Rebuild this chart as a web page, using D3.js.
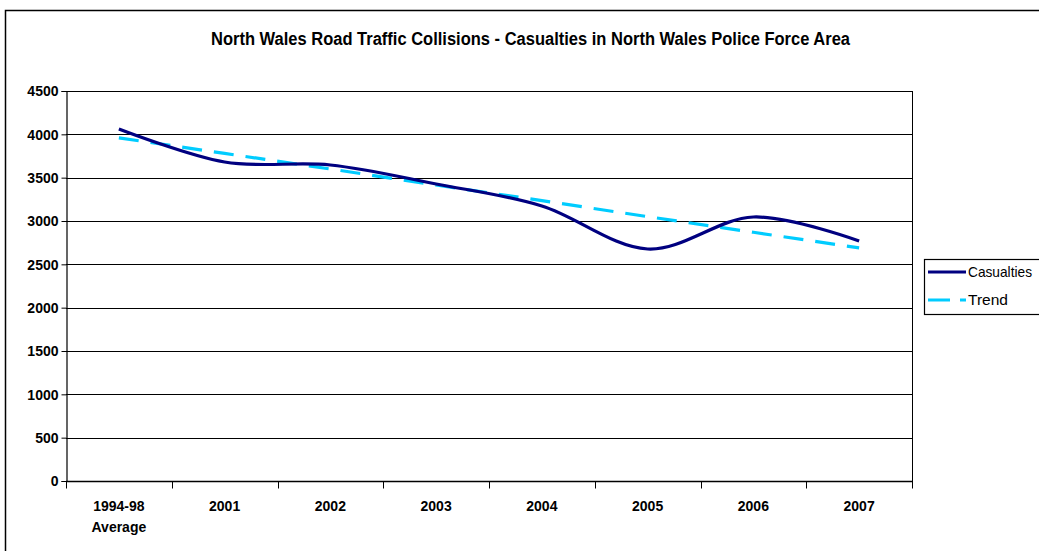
<!DOCTYPE html>
<html><head><meta charset="utf-8">
<script src="https://cdn.jsdelivr.net/npm/d3@7"></script>
<style>
body{margin:0;background:#fff;}
text{font-family:"Liberation Sans Narrow","Arial Narrow","Liberation Sans",Arial,sans-serif;font-weight:bold;fill:#000;}
</style></head>
<body><svg id="c" width="1039" height="551"></svg>
<script>
const categories = ["1994-98|Average","2001","2002","2003","2004","2005","2006","2007"];
const casualties = [4062, 3681, 3646, 3427, 3173, 2677, 3046, 2769];
const trend = [3960, 3780, 3600, 3415, 3235, 3050, 2870, 2690];
const yTicks = [0,500,1000,1500,2000,2500,3000,3500,4000,4500];

const svg = d3.select("#c");
const L=66, R=912, T=91, B=481;

// outer chart frame
svg.append("rect").attr("x",5.5).attr("y",10.5).attr("width",1100).attr("height",600)
  .attr("fill","none").attr("stroke","#000").attr("stroke-width",1.5);

svg.append("text").attr("x",211).attr("y",45).attr("text-anchor","start")
  .attr("textLength",639).attr("lengthAdjust","spacingAndGlyphs")
  .style("font-size","17.5px").text("North Wales Road Traffic Collisions - Casualties in North Wales Police Force Area");

const x = d3.scaleBand().domain(categories).range([L,R]);
const y = d3.scaleLinear().domain([0,4500]).range([B,T]);

// gridlines
svg.append("g").selectAll("line").data(yTicks.filter(d=>d>0)).join("line")
  .attr("x1",L).attr("x2",R).attr("y1",d=>Math.round(y(d))+0.5).attr("y2",d=>Math.round(y(d))+0.5)
  .attr("stroke","#000").attr("stroke-width",1.2);
// right border
svg.append("line").attr("x1",R+0.5).attr("x2",R+0.5).attr("y1",T).attr("y2",B).attr("stroke","#000").attr("stroke-width",1);

const yAxis = svg.append("g").attr("transform",`translate(${L+0.5},0)`)
  .call(d3.axisLeft(y).tickValues(yTicks).tickSize(5).tickPadding(3).tickFormat(d3.format("d")));
yAxis.select(".domain").attr("stroke","#000").attr("stroke-width",1.2);
yAxis.selectAll("text").style("font-size","14px").attr("dy","0.35em");

const xAxis = svg.append("g").attr("transform",`translate(0,${B+0.5})`);
xAxis.append("line").attr("x1",L).attr("x2",R+1).attr("stroke","#000").attr("stroke-width",1.5);
const bounds = categories.map(c=>x(c)).concat([R]);
xAxis.selectAll("line.tk").data(bounds).join("line").attr("class","tk")
  .attr("x1",d=>Math.round(d)+0.5).attr("x2",d=>Math.round(d)+0.5).attr("y1",0).attr("y2",7).attr("stroke","#000");
xAxis.selectAll("text").data(categories).join("text")
  .attr("x",d=>x(d)+x.bandwidth()/2).attr("y",29).attr("text-anchor","middle").style("font-size","14px")
  .each(function(d){
    const parts=d.split("|"); const t=d3.select(this);
    parts.forEach((p,i)=>t.append("tspan").attr("x",x(d)+x.bandwidth()/2).attr("dy",i?21:0).text(p));
  });

const cx = d=>x(d)+x.bandwidth()/2;
const lineGen = d3.line().x((d,i)=>cx(categories[i])).y(d=>y(d));

svg.append("path").datum(trend).attr("d",lineGen.curve(d3.curveLinear))
  .attr("fill","none").attr("stroke","#00CCFF").attr("stroke-width",3.2).attr("stroke-dasharray","20,12");
svg.append("path").datum(casualties).attr("d",d3.line().x((d,i)=>cx(categories[i])).y(d=>y(d)).curve(d3.curveCatmullRom.alpha(0)))
  .attr("fill","none").attr("stroke","#000080").attr("stroke-width",3.2);

// legend
const lg = svg.append("g");
lg.append("rect").attr("x",924.5).attr("y",259.5).attr("width",200).attr("height",55)
  .attr("fill","#fff").attr("stroke","#000").attr("stroke-width",1.2);
lg.append("line").attr("x1",928).attr("x2",966).attr("y1",272).attr("y2",272).attr("stroke","#000080").attr("stroke-width",3.2);
lg.append("line").attr("x1",928).attr("x2",966).attr("y1",300).attr("y2",300).attr("stroke","#00CCFF").attr("stroke-width",3.2).attr("stroke-dasharray","22,10");
lg.append("text").attr("x",968).attr("y",277).attr("textLength",64).attr("lengthAdjust","spacingAndGlyphs")
  .style("font-size","15px").style("font-weight","normal").text("Casualties");
lg.append("text").attr("x",968).attr("y",305).attr("textLength",40).attr("lengthAdjust","spacingAndGlyphs")
  .style("font-size","15px").style("font-weight","normal").text("Trend");
</script></body></html>
